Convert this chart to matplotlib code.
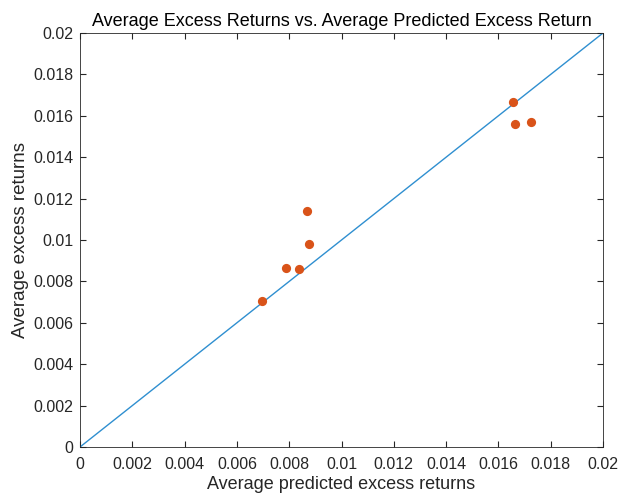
import numpy as np
import matplotlib
matplotlib.use("Agg")
import matplotlib.pyplot as plt

plt.rcParams["font.family"] = ["Liberation Sans", "DejaVu Sans"]

# predicted vs realised average excess returns
predicted = [0.00695, 0.00788, 0.00839, 0.00867, 0.00875, 0.01655, 0.01665, 0.01724]
realised = [0.00707, 0.00863, 0.00858, 0.01142, 0.00981, 0.01668, 0.01559, 0.01572]
diag = [0.0, 0.02]
ticks = np.arange(0, 0.0201, 0.002)
tick_labels = ["0", "0.002", "0.004", "0.006", "0.008", "0.01",
               "0.012", "0.014", "0.016", "0.018", "0.02"]

fig = plt.figure(figsize=(6.18, 4.98), dpi=100)
ax = fig.add_axes([80 / 618, 51 / 498, 523 / 618, 414 / 498])

ax.plot(diag, diag, color="#2F8FD0", linewidth=1.0)
ax.scatter(predicted, realised, s=44, color="#D95319", zorder=3, linewidths=0)

ax.set_xlim(0, 0.02)
ax.set_ylim(0, 0.02)
ax.set_xticks(ticks)
ax.set_yticks(ticks)
ax.set_xticklabels(tick_labels)
ax.set_yticklabels(tick_labels)
ax.tick_params(direction="in", length=4, labelsize=11.5, colors="#262626",
               top=True, right=True)
ax.tick_params(axis="x", pad=7)
ax.tick_params(axis="y", pad=5)
for sp in ax.spines.values():
    sp.set_color("#262626")
    sp.set_linewidth(0.6)

ax.set_xlabel("Average predicted excess returns", fontsize=13, color="#262626", labelpad=3)
ax.set_ylabel("Average excess returns", fontsize=13.5, color="#262626", labelpad=3)
ax.set_title("Average Excess Returns vs. Average Predicted Excess Return",
             fontsize=13, color="#000000", pad=5)

fig.savefig("out.png", dpi=100)
